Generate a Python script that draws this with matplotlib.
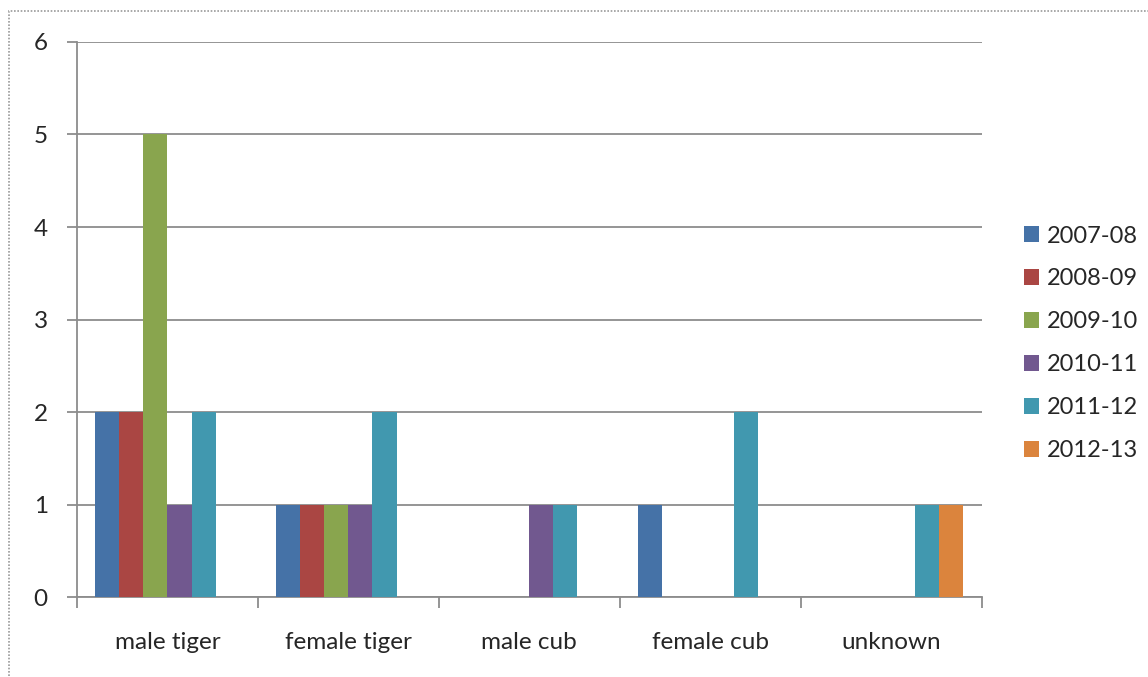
import numpy as np
import matplotlib
matplotlib.use('Agg')
import matplotlib.pyplot as plt
from matplotlib.patches import Rectangle

plt.rcParams['font.family'] = ['Lato', 'DejaVu Sans']

categorias = ['male tiger', 'female tiger', 'male cub', 'female cub', 'unknown']
anos = ['2007-08', '2008-09', '2009-10', '2010-11', '2011-12', '2012-13']
cores = ['#4572A7', '#AA4643', '#89A54E', '#71588F', '#4198AF', '#DB843D']

# valores por ano (uma lista por serie)
v0708 = [2, 1, 0, 1, 0]
v0809 = [2, 1, 0, 0, 0]
v0910 = [5, 1, 0, 0, 0]
v1011 = [1, 1, 1, 0, 0]
v1112 = [2, 2, 1, 2, 1]
v1213 = [0, 0, 0, 0, 1]
series = [v0708, v0809, v0910, v1011, v1112, v1213]

fig = plt.figure(figsize=[11.48, 6.77], dpi=100)
ax = fig.add_axes([0.067, 0.118, 0.788, 0.820])

# borda pontilhada em volta do grafico
fig.patches.append(Rectangle((9/1148, -0.1), 1.2, 1 - 11/677 + 0.1,
                             transform=fig.transFigure, fill=False,
                             edgecolor='#9a9a9a', linewidth=1.2,
                             linestyle=(0, (1, 1))))

x = np.arange(len(categorias))
w = 1/7.5
for j, vals in enumerate(series):
    ax.bar(x + (j - 2.5)*w, vals, width=w, color=cores[j], label=anos[j],
           zorder=3, linewidth=0)

cinza = '#8c8c8c'
ax.set_ylim(0, 6)
ax.set_xlim(-0.5, 4.5)
ax.set_yticks(range(7))
ax.yaxis.grid(True, color=cinza, linewidth=1.3, zorder=0)
for s in ['top', 'right']:
    ax.spines[s].set_visible(False)
for s in ['left', 'bottom']:
    ax.spines[s].set_color(cinza)
    ax.spines[s].set_linewidth(1.3)

ax.set_xticks(np.arange(-0.5, 5, 1))
ax.set_xticklabels([])
ax.set_xticks(x, minor=True)
ax.set_xticklabels(categorias, minor=True)
ax.tick_params(axis='x', which='major', length=8, width=1.3, color=cinza)
ax.tick_params(axis='x', which='minor', length=0, pad=25, labelsize=17.5,
               labelcolor='#262626')
ax.tick_params(axis='y', length=7, width=1.3, color=cinza, pad=14,
               labelsize=17.5, labelcolor='#262626')

leg = ax.legend(loc='center left', bbox_to_anchor=(1.047, 0.457), frameon=False,
                fontsize=17, handlelength=0.65, handleheight=0.65,
                handletextpad=0.3, labelspacing=0.93, borderaxespad=0,
                borderpad=0, labelcolor='#262626')

fig.savefig('out.png', dpi=100)
